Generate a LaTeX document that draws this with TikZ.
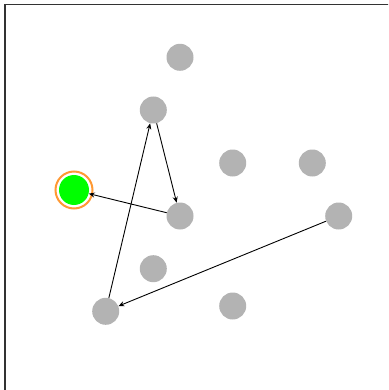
\documentclass[tikz,border=0pt]{standalone}
\usetikzlibrary{arrows.meta}
\definecolor{dotGray}{HTML}{B3B3B3}
\definecolor{goalGreen}{HTML}{00FF00}
\definecolor{ringOrange}{HTML}{FF9933}
\definecolor{frameGray}{HTML}{333333}
\tikzset{
  dot/.style={circle, fill=dotGray, minimum size=27pt, inner sep=0pt},
  goal/.style={circle, fill=goalGreen, minimum size=30pt, inner sep=0pt},
  ring/.style={draw=ringOrange, line width=2pt},
  hop/.style={-{Stealth[length=6pt, width=5pt, inset=2pt]}, line width=0.9pt},
  frame/.style={draw=frameGray, line width=1.4pt},
}

\begin{document}
\begin{tikzpicture}[x=1pt, y=-1pt]

% ------------------------------------------------------------ the canvas
\useasboundingbox (0,0) rectangle (388,390);
\clip (0,0) rectangle (388,390);
\fill[white] (0,0) rectangle (388,390);
\draw[frame] (5,4.5) rectangle (400,400);

% ------------------------------------------------------------ the points
\foreach \n/\x/\y in {a/180/57.3, b/153.3/110, c/232.7/163, d/312.3/163,
                      e/180/216, f/338.7/216, g/153.3/268.7, h/105.7/311.3,
                      i/232.7/306}
  \node[dot] (\n) at (\x,\y) {};

% the goal, ringed
\node[goal] (goal) at (74,190) {};
\draw[ring] (goal.center) circle (18.5pt);

% ------------------------------------------------------------ the path
\draw[hop] (f) -- (h);
\draw[hop] (h) -- (b);
\draw[hop] (b) -- (e);
\draw[hop] (e) -- (goal);

\end{tikzpicture}
\end{document}
